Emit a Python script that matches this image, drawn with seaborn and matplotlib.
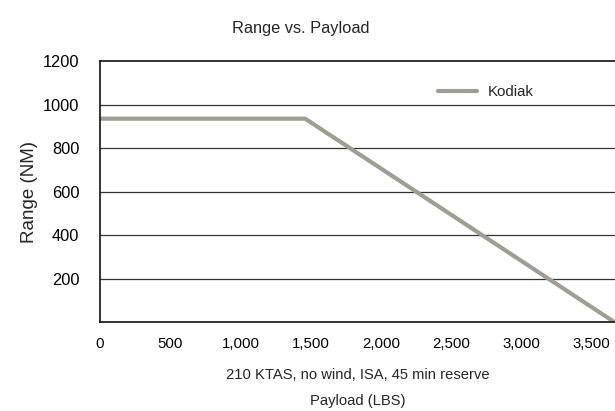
import numpy as np
import pandas as pd
import matplotlib
matplotlib.use('Agg')
import matplotlib.pyplot as plt
import seaborn as sns

# data
payload_lbs = [0, 1460, 3660]
range_nm = [935, 935, 0]
series_name = 'Kodiak'

x_ticks = [0, 500, 1000, 1500, 2000, 2500, 3000, 3500]
x_ticklabels = ['0', '500', '1,000', '1,500', '2,000', '2,500', '3,000', '3,500']
y_ticks = [200, 400, 600, 800, 1000, 1200]

df = pd.DataFrame({'payload': payload_lbs, 'range': range_nm, 'aircraft': series_name})

sns.set_style('white')
plt.rcParams['font.family'] = ['Liberation Sans', 'DejaVu Sans']

fig = plt.figure(figsize=(6.15, 4.11), dpi=100)
ax = fig.add_axes([0.1626, 0.2165, 0.8374, 0.635])

sns.lineplot(data=df, x='payload', y='range', hue='aircraft',
             palette=['#a19d95'], linewidth=3, ax=ax)

ax.set_xlim(0, 3665)
ax.set_ylim(0, 1200)
ax.set_xticks(x_ticks)
ax.set_xticklabels(x_ticklabels)
ax.set_yticks(y_ticks)
ax.tick_params(axis='x', length=0, pad=11, labelsize=10.8, colors='black')
ax.tick_params(axis='y', length=0, pad=15, labelsize=11.8, colors='black')

# horizontal grid lines
for v in y_ticks[:-1]:
    ax.axhline(v, color='#333333', linewidth=0.9, zorder=0)

for side in ['top', 'right']:
    ax.spines[side].set_visible(False)
ax.axhline(1200, color='#111111', linewidth=1.2, zorder=0, clip_on=False)
ax.spines['left'].set_color('#111111')
ax.spines['bottom'].set_color('#111111')
ax.spines['left'].set_linewidth(1.2)
ax.spines['bottom'].set_linewidth(1.2)

ax.set_title('Range vs. Payload', fontsize=11.8, pad=20, x=0.39)
ax.set_ylabel('Range (NM)', fontsize=13.5, labelpad=3)
ax.set_xlabel('210 KTAS, no wind, ISA, 45 min reserve\nPayload (LBS)',
              fontsize=10.6, linespacing=2.05, labelpad=12)

leg = ax.legend(loc='upper left', bbox_to_anchor=(0.63, 0.96), frameon=False,
                fontsize=10.8, handlelength=2.6, handletextpad=0.75)
leg.set_title(None)

fig.savefig('out.png', dpi=100)
